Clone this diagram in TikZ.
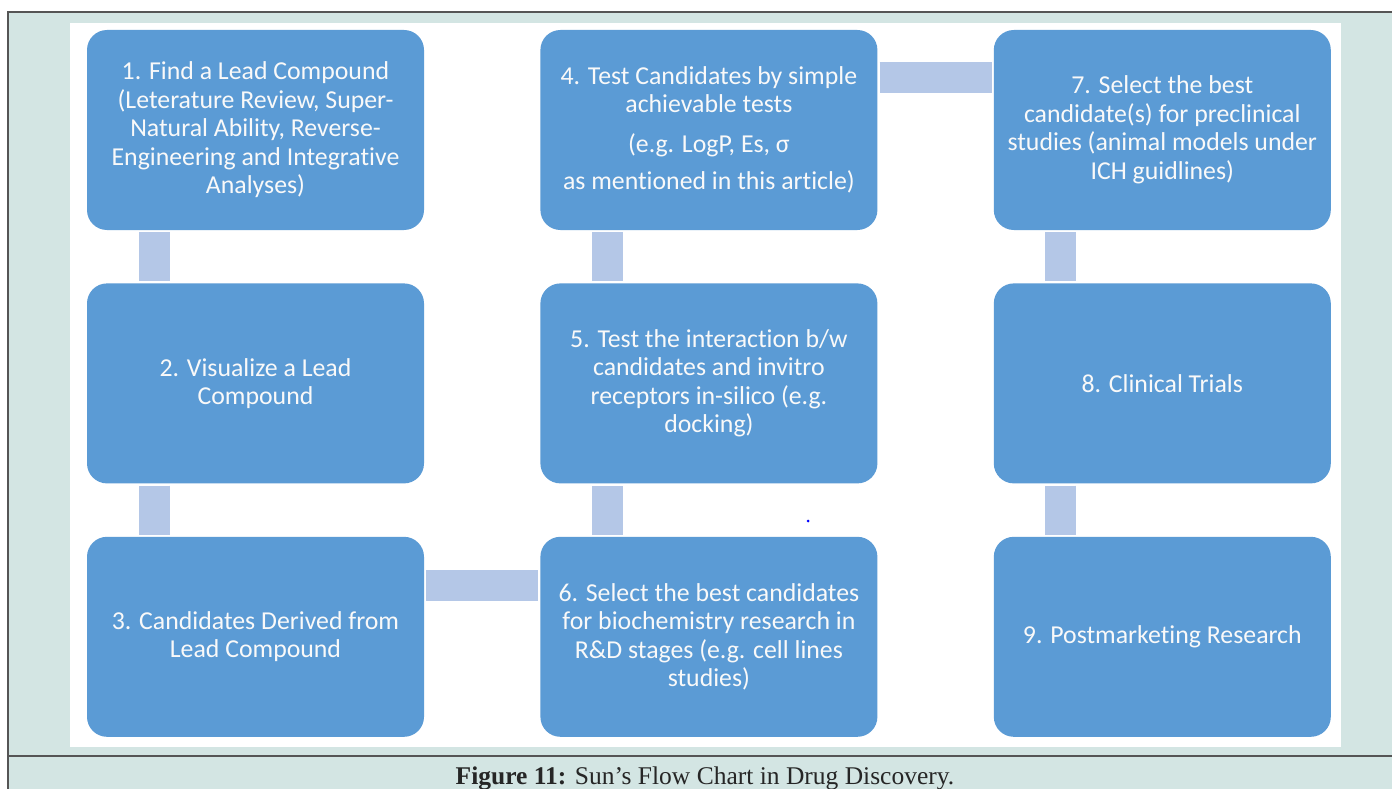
\documentclass[tikz,border=0pt]{standalone}
\usepackage{fontspec}
\usetikzlibrary{positioning}
\newfontfamily\boxfont[Ligatures=NoCommon]{Carlito}
\newfontfamily\capfont{Liberation Serif}
\definecolor{boxblue}{HTML}{5B9BD5}
\definecolor{linkblue}{HTML}{B4C7E7}
\definecolor{capteal}{HTML}{D3E5E3}
\definecolor{rulegray}{HTML}{555555}
\tikzset{
  x=1pt, y=-1pt,
  node distance=53pt and 116pt,
  stage/.style={rectangle, rounded corners=20pt, fill=boxblue, text=white!95!gray,
    minimum width=337pt, minimum height=200pt, inner sep=0pt, align=center,
    font=\boxfont\fontsize{25.8}{28.5}\selectfont},
  link/.style={draw=linkblue, line width=31pt, shorten >=2pt, shorten <=2pt},
}

\begin{document}
\begin{tikzpicture}
      \useasboundingbox (0,0) rectangle (1392,789);
      \fill[white] (0,0) rectangle (1392,789);
      \fill[capteal] (9,12) rectangle (1392,789);
      \draw[rulegray, line width=2pt] (8,789) -- (8,12) -- (1392,12);
      \draw[rulegray, line width=2pt] (8,756) -- (1392,756);
      \fill[white] (70,23) rectangle (1341,747);

      \node[stage] (s1) at (255.5,130) {1. Find a Lead Compound\\(Leterature Review, Super-\\Natural Ability, Reverse-\\Engineering and Integrative\\Analyses)};
      \node[stage,below=of s1] (s2) {2. Visualize a Lead\\Compound};
      \node[stage,below=of s2] (s3) {3. Candidates Derived from\\Lead Compound};
      \node[stage,right=of s1] (s4) {4. Test Candidates by simple\\achievable tests\\[11pt](e.g. LogP, Es, σ\\[9pt]as mentioned in this article)};
      \node[stage,below=of s4] (s5) {5. Test the interaction b/w\\candidates and invitro\\receptors in-silico (e.g.\\docking)};
      \node[stage,below=of s5] (s6) {6. Select the best candidates\\for biochemistry research in\\R\&D stages (e.g. cell lines\\studies)};
      \node[stage,right=of s4] (s7) {7. Select the best\\candidate(s) for preclinical\\studies (animal models under\\ICH guidlines)};
      \node[stage,below=of s7] (s8) {8. Clinical Trials};
      \node[stage,below=of s8] (s9) {9. Postmarketing Research};

      \draw[link] ([xshift=68pt]s1.south west) -- ([xshift=68pt]s2.north west);
      \draw[link] ([xshift=68pt]s2.south west) -- ([xshift=68pt]s3.north west);
      \draw[link] ([yshift=-49pt]s3.north east) -- ([yshift=-49pt]s6.north west);
      \draw[link] ([xshift=67pt]s6.north west) -- ([xshift=67pt]s5.south west);
      \draw[link] ([xshift=67pt]s5.north west) -- ([xshift=67pt]s4.south west);
      \draw[link] ([yshift=-48pt]s4.north east) -- ([yshift=-48pt]s7.north west);
      \draw[link] ([xshift=67pt]s7.south west) -- ([xshift=67pt]s8.north west);
      \draw[link] ([xshift=67pt]s8.south west) -- ([xshift=67pt]s9.north west);

      \fill[blue] (808,521) circle (1.5pt);

      \node[anchor=base, font=\capfont\fontsize{25.5}{28}\selectfont, text=black!85] (cap) at (705,784)
        {\textbf{Figure 11:} Sun’s Flow Chart in Drug Discovery.};
    \end{tikzpicture}
\end{document}
